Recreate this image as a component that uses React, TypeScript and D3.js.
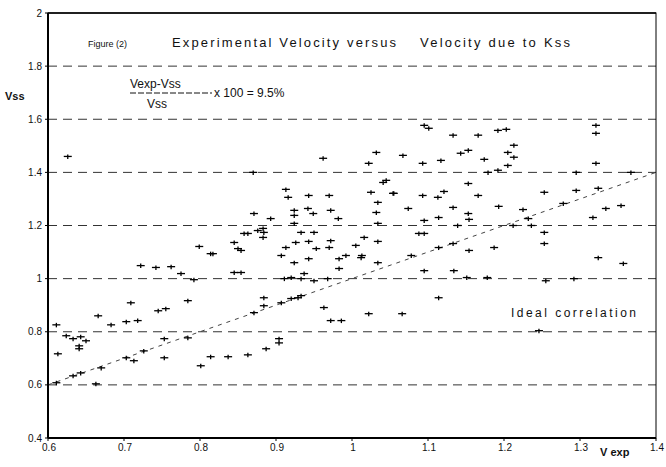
import * as d3 from "d3";

// y-axis ticks and x-axis ticks
const yTicks = [0.4, 0.6, 0.8, 1, 1.2, 1.4, 1.6, 1.8, 2];
const xTicks = [0.6, 0.7, 0.8, 0.9, 1, 1.1, 1.2, 1.3, 1.4];

// measured points: V exp (x) vs V ss (y)
const vExp = [
  0.626, 0.611, 0.624, 0.633, 0.643, 0.65, 0.641, 0.613, 0.641, 0.666,
  0.683, 0.703, 0.718, 0.745, 0.755, 0.709, 0.784, 0.722, 0.742, 0.762,
  0.775, 0.792, 0.814, 0.799, 0.845, 0.854, 0.863, 0.884, 0.845, 0.92,
  0.937, 0.611, 0.633, 0.643, 0.663, 0.67, 0.703, 0.713, 0.726, 0.753,
  0.814, 0.837, 0.863, 0.801, 0.887, 0.904, 0.871, 0.884, 0.907, 0.92,
  0.933, 0.904, 0.784, 0.753, 0.963, 0.972, 0.962, 1.032, 1.022, 1.041,
  1.054, 1.025, 1.034, 1.032, 1.034, 1.016, 1.034, 1.005, 1.012, 1.034,
  0.983, 0.983, 0.972, 0.972, 0.982, 0.97, 0.943, 0.913, 0.916, 0.924,
  0.924, 0.942, 0.949, 0.924, 0.933, 0.95, 0.883, 0.871, 0.893, 0.876,
  0.858, 0.883, 0.85, 0.817, 0.913, 0.926, 0.943, 0.953, 0.97, 0.907,
  0.924, 0.943, 0.854, 0.911, 0.933, 0.95, 0.968, 0.929, 0.884, 0.87,
  1.095, 1.101, 1.133, 1.166, 1.192, 1.203, 1.213, 1.153, 1.143, 1.205,
  1.213, 1.174, 1.067, 1.117, 1.093, 1.205, 1.192, 1.179, 1.045, 1.055,
  1.093, 1.113, 1.121, 1.153, 1.166, 1.253, 1.295, 1.278, 1.225, 1.193,
  1.133, 1.074, 1.114, 1.095, 1.153, 1.154, 1.232, 1.236, 1.253, 1.212,
  1.139, 1.088, 1.114, 1.133, 1.154, 1.187, 1.253, 1.321, 1.321, 1.321,
  1.295, 1.367, 1.324, 1.334, 1.354, 1.317, 1.255, 1.324, 1.357, 1.292,
  0.992, 1.013, 1.078, 1.095, 1.134, 1.151, 1.178, 1.114, 0.986, 1.022,
  1.066, 1.246, 1.095,
];
const vSs = [
  1.46, 0.826, 0.785, 0.774, 0.781, 0.766, 0.747, 0.717, 0.736, 0.86,
  0.826, 0.838, 0.842, 0.879, 0.887, 0.909, 0.917, 1.049, 1.042, 1.045,
  1.019, 0.996, 1.094, 1.121, 1.136, 1.106, 1.17, 1.174, 1.023, 1.004,
  1.019, 0.608, 0.634, 0.645, 0.604, 0.664, 0.702, 0.691, 0.728, 0.702,
  0.706, 0.706, 0.713, 0.672, 0.736, 0.758, 0.872, 0.898, 0.909, 0.925,
  0.936, 0.774, 0.777, 0.774, 0.891, 0.842, 1.453, 1.475, 1.434, 1.362,
  1.321, 1.325, 1.287, 1.249, 1.208, 1.155, 1.14, 1.125, 1.079, 1.06,
  1.075, 1.038, 1.143, 1.257, 1.226, 1.313, 1.313, 1.336, 1.306, 1.257,
  1.238, 1.264, 1.245, 1.208, 1.174, 1.174, 1.189, 1.245, 1.226, 1.181,
  1.17, 1.155, 1.113, 1.094, 1.117, 1.136, 1.14, 1.113, 1.117, 1.087,
  1.06, 1.075, 1.023, 1.0, 1.0, 0.992, 1.0, 0.928, 0.928, 1.4,
  1.577, 1.566, 1.54, 1.54, 1.558, 1.562, 1.502, 1.483, 1.472, 1.475,
  1.457, 1.449, 1.464, 1.445, 1.434, 1.426, 1.408, 1.4, 1.37, 1.321,
  1.313, 1.306, 1.328, 1.358, 1.313, 1.325, 1.332, 1.283, 1.26, 1.272,
  1.268, 1.264, 1.23, 1.219, 1.245, 1.223, 1.226, 1.2, 1.174, 1.2,
  1.2, 1.17, 1.117, 1.132, 1.106, 1.117, 1.132, 1.577, 1.547, 1.434,
  1.4, 1.4, 1.34, 1.264, 1.275, 1.23, 0.992, 1.079, 1.057, 1.0,
  1.087, 1.087, 1.087, 1.03, 1.03, 1.004, 1.004, 0.928, 0.842, 0.868,
  0.868, 0.804, 1.17,
];

const W = 666;
const H = 467;
const left = 48;
const right = 656;
const top = 13;
const bottom = 438;

export default function App() {
  const x = d3.scaleLinear().domain([0.6, 1.4]).range([left, right]);
  const y = d3.scaleLinear().domain([0.4, 2]).range([bottom, top]);
  const points = vExp.map((v, i) => ({ x: v, y: vSs[i] }));
  const font = "Liberation Sans, Arial, sans-serif";

  return (
    <svg
      width={W}
      height={H}
      style={{ position: "absolute", left: 0, top: 0, background: "#fff" }}
      fontFamily={font}
    >
      <rect x={0} y={0} width={W} height={H} fill="#fff" />
      {/* gridlines */}
      {yTicks.slice(1, -1).map((t) => (
        <line
          key={"g" + t}
          x1={left}
          x2={right}
          y1={y(t)}
          y2={y(t)}
          stroke="#333"
          strokeWidth={1}
          strokeDasharray="9,6"
        />
      ))}
      {/* ideal correlation line */}
      <line
        x1={x(0.6)}
        y1={y(0.6)}
        x2={x(1.4)}
        y2={y(1.4)}
        stroke="#444"
        strokeWidth={1}
        strokeDasharray="4,5"
      />
      {/* points */}
      {points.map((p, i) => (
        <g key={i} transform={`translate(${x(p.x)},${y(p.y)})`} stroke="#000" strokeWidth={1.3}>
          <line x1={-4} x2={4} y1={0} y2={0} />
          <line x1={0} x2={0} y1={-2} y2={2.5} />
        </g>
      ))}
      {/* frame */}
      <rect
        x={left}
        y={top}
        width={right - left}
        height={bottom - top}
        fill="none"
        stroke="#000"
        strokeWidth={1}
      />
      <line x1={left} x2={left} y1={top} y2={bottom} stroke="#000" strokeWidth={2} />
      <line x1={left} x2={right} y1={bottom} y2={bottom} stroke="#000" strokeWidth={2} />
      <line x1={left} x2={right} y1={top} y2={top} stroke="#000" strokeWidth={1.5} />
      {/* y ticks */}
      {yTicks.map((t) => (
        <g key={"y" + t}>
          <line x1={left - 3} x2={left} y1={y(t)} y2={y(t)} stroke="#000" />
          <text
            x={left - 6}
            y={y(t)}
            dy="0.35em"
            textAnchor="end"
            fontSize={10}
            fill="#111"
          >
            {t === 1 || t === 2 ? d3.format("d")(t) : d3.format(".1f")(t)}
          </text>
        </g>
      ))}
      {/* x ticks */}
      {xTicks.map((t) => (
        <g key={"x" + t}>
          <line x1={x(t)} x2={x(t)} y1={bottom} y2={bottom + 3} stroke="#000" />
          <text
            x={x(t) + 1}
            y={bottom + 13}
            textAnchor="middle"
            fontSize={10}
            fill="#111"
          >
            {t === 1 ? "1" : d3.format(".1f")(t)}
          </text>
        </g>
      ))}
      {/* axis titles */}
      <text x={5} y={100} fontSize={11} fontWeight="bold" fill="#111">
        Vss
      </text>
      <text x={600} y={456} fontSize={11} fontWeight="bold" fill="#111">
        V exp
      </text>
      {/* chart title */}
      <text x={88} y={47} fontSize={9} fill="#111">
        Figure (2)
      </text>
      <text x={172} y={47} fontSize={13} fill="#111" textLength={224}>
        Experimental Velocity versus
      </text>
      <text x={420} y={47} fontSize={13} fill="#111" textLength={150}>
        Velocity due to Kss
      </text>
      {/* formula */}
      <text x={130} y={88} fontSize={12} fill="#111">
        Vexp-Vss
      </text>
      <line x1={130} x2={212} y1={93} y2={93} stroke="#111" strokeWidth={1} strokeDasharray="6,2" />
      <text x={147} y={108} fontSize={12} fill="#111">
        Vss
      </text>
      <text x={214} y={97} fontSize={12} fill="#111">
        x 100 = 9.5%
      </text>
      <text x={511} y={317} fontSize={12} fill="#111" textLength={125}>
        Ideal correlation
      </text>
    </svg>
  );
}
